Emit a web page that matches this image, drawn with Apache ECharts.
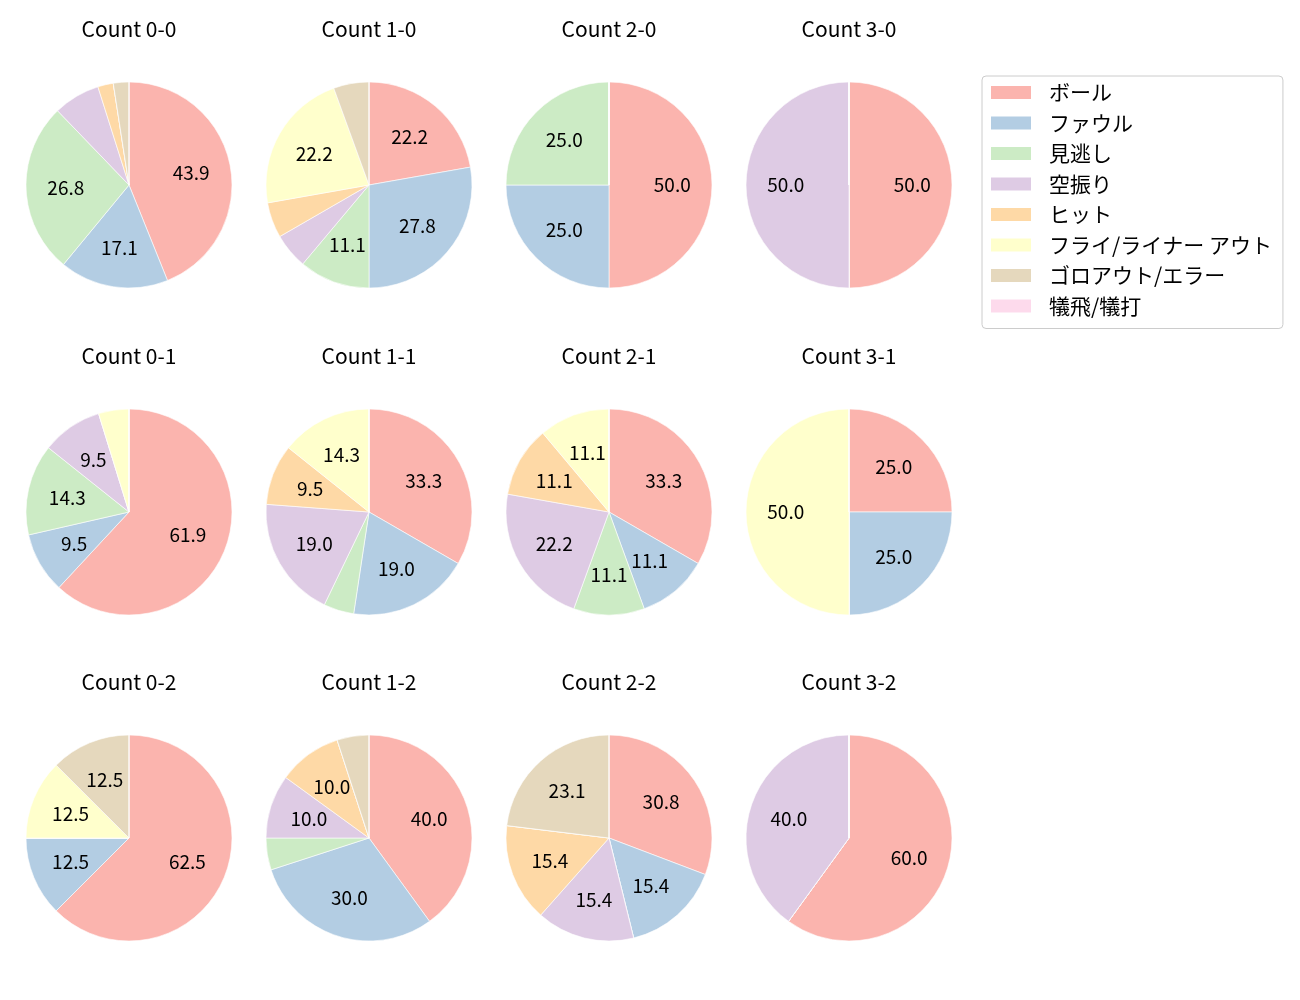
<!DOCTYPE html>
<html>
<head>
<meta charset="utf-8">
<script src="https://cdn.jsdelivr.net/npm/echarts@6/dist/echarts.min.js"></script>
<style>html,body{margin:0;padding:0;background:#fff}#c{width:1300px;height:1000px}</style>
</head>
<body>
<div id="c"></div>
<script>
const categories = ['ボール','ファウル','見逃し','空振り','ヒット','フライ/ライナー アウト','ゴロアウト/エラー','犠飛/犠打'];
const palette = ['#fbb4ae','#b3cde3','#ccebc5','#decbe4','#fed9a6','#ffffcc','#e5d8bd','#fddaec'];
const countLabels = ['0-0','1-0','2-0','3-0','0-1','1-1','2-1','3-1','0-2','1-2','2-2','3-2'];
const c00 = [18,7,11,3,1,0,1,0];
const c10 = [4,5,2,1,1,4,1,0];
const c20 = [2,1,1,0,0,0,0,0];
const c30 = [1,0,0,1,0,0,0,0];
const c01 = [13,2,3,2,0,1,0,0];
const c11 = [7,4,1,4,2,3,0,0];
const c21 = [3,1,1,2,1,1,0,0];
const c31 = [1,1,0,0,0,2,0,0];
const c02 = [5,1,0,0,0,1,1,0];
const c12 = [8,6,1,2,2,0,1,0];
const c22 = [4,2,0,2,2,0,3,0];
const c32 = [3,0,0,2,0,0,0,0];
const countValues = [c00,c10,c20,c30,c01,c11,c21,c31,c02,c12,c22,c32];

const FONT = '"Noto Sans CJK JP", "Noto Sans", sans-serif';
const colX = [129, 369, 609, 849];
const rowY = [185, 512, 838];
const R = 103;

const titles = [];
const series = [];
countLabels.forEach((lab, i) => {
  const cx = colX[i % 4], cy = rowY[Math.floor(i / 4)];
  titles.push({
    text: 'Count ' + lab, left: cx, top: cy - 166, textAlign: 'center', padding: 0,
    textStyle: {fontFamily: FONT, fontSize: 21, fontWeight: 'normal', color: '#000'}
  });
  const vals = countValues[i];
  const total = vals.reduce((a, b) => a + b, 0);
  series.push({
    type: 'pie', center: [cx, cy], radius: [0, R], startAngle: 90, clockwise: true,
    animation: false, silent: true, avoidLabelOverlap: false,
    label: {show: false}, labelLine: {show: false},
    itemStyle: {borderWidth: 0.6, borderColor: '#fff'},
    data: categories.map((n, k) => ({name: n, value: vals[k], itemStyle: {color: palette[k]}}))
  });
  series.push({
    type: 'pie', center: [cx, cy], radius: [R * 0.17, R], startAngle: 90, clockwise: true,
    animation: false, silent: true, avoidLabelOverlap: false, legendHoverLink: false,
    itemStyle: {color: 'rgba(0,0,0,0)', borderWidth: 0},
    label: {
      show: true, position: 'inside', color: '#000', fontFamily: FONT, fontSize: 19,
      formatter: p => {
        const pct = p.value / total * 100;
        return pct >= 8 ? pct.toFixed(1) : '';
      }
    },
    labelLine: {show: false},
    data: categories.map((n, k) => ({name: n, value: vals[k]}))
  });
});

const chart = echarts.init(document.getElementById('c'), null, {renderer: 'canvas'});
chart.setOption({
  animation: false,
  backgroundColor: '#fff',
  title: titles,
  legend: {
    orient: 'vertical', left: 982, top: 76,
    padding: [6, 11, 12, 7],
    borderColor: '#cccccc', borderWidth: 1, borderRadius: 4, backgroundColor: '#fff',
    icon: 'rect', itemWidth: 42, itemHeight: 15, itemGap: 9.5,
    selectedMode: false,
    data: categories,
    formatter: n => '{t|' + n + '}',
    textStyle: {
      fontSize: 21, lineHeight: 15, fontFamily: FONT,
      rich: {t: {fontFamily: FONT, fontSize: 21, color: '#000', padding: [0, 0, 0, 12], lineHeight: 15}}
    }
  },
  series: series
});
</script>
</body>
</html>
